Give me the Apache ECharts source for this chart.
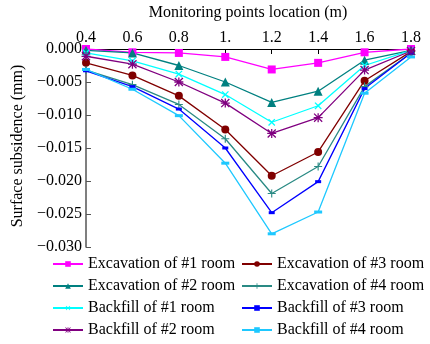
<!DOCTYPE html>
<html>
<head>
<meta charset="utf-8">
<script src="https://cdn.jsdelivr.net/npm/echarts@6/dist/echarts.min.js"></script>
<style>
  html, body { margin: 0; padding: 0; background: #fff; }
  #chart { width: 430px; height: 344px; }
</style>
</head>
<body>
<div id="chart"></div>
<script>
var locations = ['0.4', '0.6', '0.8', '1.', '1.2', '1.4', '1.6', '1.8'];

var excavation1 = [0, -0.0005, -0.0006, -0.0012, -0.0031, -0.0021, -0.0005, 0];
var excavation2 = [-0.0002, -0.0006, -0.0025, -0.0050, -0.0081, -0.0064, -0.0017, -0.0002];
var excavation3 = [-0.0021, -0.0040, -0.0071, -0.0122, -0.0192, -0.0156, -0.0048, -0.0004];
var excavation4 = [-0.0032, -0.0054, -0.0084, -0.0136, -0.0219, -0.0178, -0.0057, -0.0006];
var backfill1 = [-0.0006, -0.0018, -0.0038, -0.0069, -0.0111, -0.0086, -0.0025, -0.0002];
var backfill2 = [-0.0011, -0.0023, -0.0050, -0.0082, -0.0128, -0.0104, -0.0032, -0.0003];
var backfill3 = [-0.0033, -0.0057, -0.0091, -0.0150, -0.0248, -0.0201, -0.0060, -0.0006];
var backfill4 = [-0.0031, -0.0061, -0.0101, -0.0173, -0.0280, -0.0247, -0.0067, -0.0012];

// legend rows, left column then right column
var legendLeft = ['Excavation of #1 room', 'Excavation of #2 room', 'Backfill of #1 room', 'Backfill of #2 room'];
var legendRight = ['Excavation of #3 room', 'Excavation of #4 room', 'Backfill of #3 room', 'Backfill of #4 room'];

var xName = 'Monitoring points location (m)';
var yName = 'Surface subsidence (mm)';

var font = 'Liberation Serif';
var plusPath = 'path://M4.3,0H5.7V4.3H10V5.7H5.7V10H4.3V5.7H0V4.3H4.3Z';
var starPath = 'path://M0,4.3H10V5.7H0Z M4.3,0H5.7V10H4.3Z M1,0L10,9L9,10L0,1Z M9,0L10,1L1,10L0,9Z';

function line(name, data, color, symbol, size, extra) {
	var s = {
		name: name,
		type: 'line',
		data: data,
		symbol: symbol,
		symbolSize: size,
		showAllSymbol: true,
		itemStyle: { color: color },
		lineStyle: { color: color, width: 1.3 },
		z: 3
	};
	if (extra) {
		for (var k in extra) s[k] = extra[k];
	}
	return s;
}

var rowCenters = [264, 286, 308, 330];
var legends = [];
function addLegends(names, left) {
	names.forEach(function (n, i) {
		legends.push({
			orient: 'horizontal',
			left: left,
			top: rowCenters[i] - 8,
			padding: 0,
			itemWidth: 30,
			itemHeight: 7,
			itemGap: 0,
			textStyle: { fontFamily: font, fontSize: 16, lineHeight: 16, color: '#000' },
			data: [n]
		});
	});
}
addLegends(legendLeft, 52);
addLegends(legendRight, 241);

var myChart = echarts.init(document.getElementById('chart'));

var option = {
	animation: false,
	textStyle: { fontFamily: font, color: '#000' },
	grid: {
		left: 86,
		top: 49,
		right: 19,
		bottom: 97,
		outerBoundsMode: 'none',
		containLabel: false
	},
	legend: legends,
	// axis titles
	graphic: [
		{
			type: 'text',
			x: 248,
			y: 13,
			style: {
				text: xName,
				fontFamily: font,
				fontSize: 16,
				fill: '#000',
				align: 'center',
				verticalAlign: 'middle'
			}
		},
		{
			type: 'text',
			x: 18,
			y: 146,
			rotation: Math.PI / 2,
			style: {
				text: yName,
				fontFamily: font,
				fontSize: 16,
				fill: '#000',
				align: 'center',
				verticalAlign: 'middle'
			}
		}
	],
	xAxis: {
		type: 'category',
		position: 'top',
		boundaryGap: false,
		data: locations,
		axisLine: { lineStyle: { color: '#000', width: 1.2 } },
		axisTick: { inside: true, length: 5, alignWithLabel: true, lineStyle: { color: '#000' } },
		axisLabel: { fontFamily: font, fontSize: 16, color: '#000', margin: 3 },
		splitLine: { show: false }
	},
	yAxis: {
		type: 'value',
		min: -0.03,
		max: 0,
		interval: 0.005,
		axisLine: { show: true, lineStyle: { color: '#555', width: 1.5 } },
		axisTick: { show: true, inside: true, length: 5, lineStyle: { color: '#555' } },
		axisLabel: {
			fontFamily: font,
			fontSize: 16,
			color: '#000',
			margin: 4,
			formatter: function (v) {
				if (Math.abs(v) < 1e-9) return '0.000';
				return '\u2212' + Math.abs(v).toFixed(3);
			}
		},
		splitLine: { show: false }
	},
	series: [
		line('Excavation of #1 room', excavation1, '#ff00ff', 'rect', 8),
		line('Excavation of #3 room', excavation3, '#800000', 'circle', 8),
		line('Excavation of #2 room', excavation2, '#008080', 'triangle', 9),
		line('Excavation of #4 room', excavation4, '#2a8a84', plusPath, 8),
		line('Backfill of #1 room', backfill1, '#00ffff', plusPath, 9, { symbolRotate: 45 }),
		line('Backfill of #3 room', backfill3, '#0000ff', 'rect', [6, 3]),
		line('Backfill of #2 room', backfill2, '#800080', starPath, 9),
		line('Backfill of #4 room', backfill4, '#1ec8ff', 'rect', [8, 3])
	]
};
myChart.setOption(option);
</script>
</body>
</html>
